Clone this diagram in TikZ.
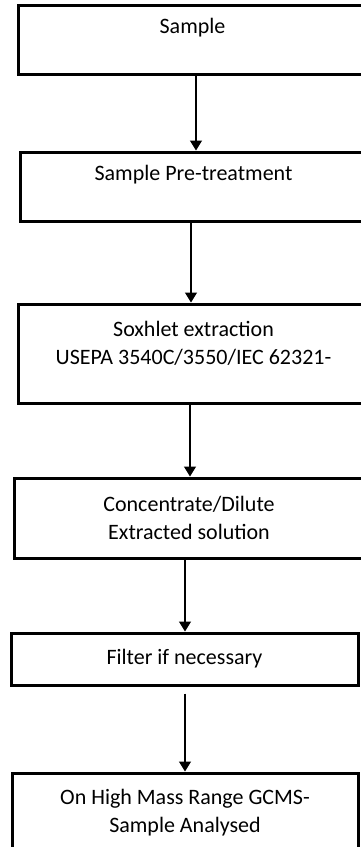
\documentclass[tikz,border=0pt]{standalone}
\usepackage{fontspec}
\setmainfont{Carlito}
\usetikzlibrary{arrows.meta}

\begin{document}
\begin{tikzpicture}[x=1pt,y=-1pt,
  stage/.style={draw=black,line width=3pt,rectangle,align=center,inner sep=0pt,font=\fontsize{22}{28}\selectfont},
  flow/.style={line width=1.2pt,-{Triangle[width=12pt,length=10pt]}}]
\useasboundingbox (0,0) rectangle (361,847);
\clip (0,0) rectangle (361,847);

\node[stage,minimum width=349,minimum height=69] (A) at (192.5,39.5) {Sample\\~};
\node[stage,minimum width=347,minimum height=69] (B) at (193.5,186.5) {Sample Pre-treatment\\~};
\node[stage,minimum width=351,minimum height=99] (C) at (193.5,353.5) {Soxhlet extraction\\USEPA 3540C/3550/IEC 62321-\\[-6pt]~};
\node[stage,minimum width=350,minimum height=80] (D) at (189,518) {Concentrate/Dilute\\Extracted solution};
\node[stage,minimum width=347,minimum height=52] (E) at (184.5,659) {Filter if necessary};
\node[stage,minimum width=346,minimum height=104] (F) at (185,825) {On High Mass Range GCMS-\\Sample Analysed\\~};

\draw[flow] ([xshift=3.5pt]A.south) -- ([xshift=3.5pt]A.south |- B.north); %AB
\draw[flow] ([xshift=-2.5pt]B.south) -- ([xshift=-2.5pt]B.south |- C.north); %BC
\draw[flow] ([xshift=-3.5pt]C.south) -- ([xshift=-3.5pt]C.south |- D.north); %CD
\draw[flow] ([xshift=-4pt]D.south) -- ([xshift=-4pt]D.south |- E.north); %DE
\draw[flow,shorten <=7pt] ([xshift=0.5pt]E.south) -- ([xshift=0.5pt]E.south |- F.north); %EF

\end{tikzpicture}
\end{document}
